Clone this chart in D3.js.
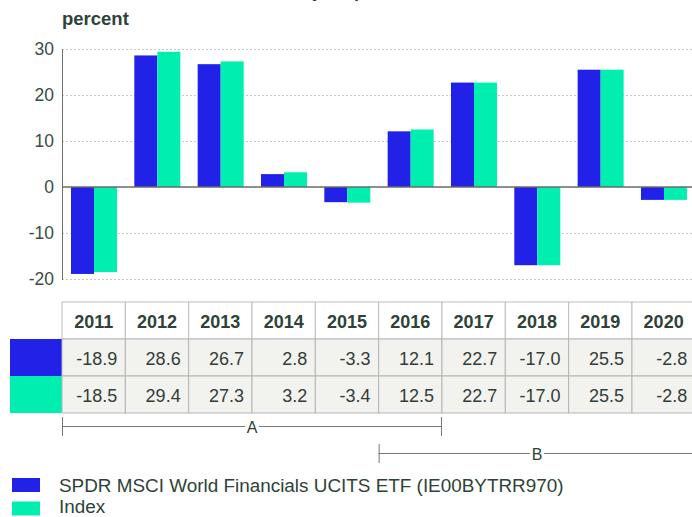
<!DOCTYPE html>
<html>
<head>
<meta charset="utf-8">
<script src="https://cdn.jsdelivr.net/npm/d3@7"></script>
<style>
  body { margin: 0; background: #fff; }
  svg { display: block; font-family: "Liberation Sans", Arial, sans-serif; }
</style>
</head>
<body>
<script>
// values
const years = ['2011','2012','2013','2014','2015','2016','2017','2018','2019','2020'];
const etfValues = [-18.9, 28.6, 26.7, 2.8, -3.3, 12.1, 22.7, -17.0, 25.5, -2.8];
const indexValues = [-18.5, 29.4, 27.3, 3.2, -3.4, 12.5, 22.7, -17.0, 25.5, -2.8];
const seriesNames = ['SPDR MSCI World Financials UCITS ETF (IE00BYTRR970)', 'Index'];
const yTicks = [30, 20, 10, 0, -10, -20];
const bracketLabels = ['A', 'B'];
const bracketFrom = ['2011', '2016'];
const bracketTo = ['2016', '2020'];

const width = 692;
const height = 517;
const colors = ['#2121e8', '#00efb1'];
const textColor = '#2e4238';

const svg = d3.select('body').append('svg')
    .attr('width', width)
    .attr('height', height);

// title sits mostly above the visible area
svg.append('text')
    .attr('x', 230)
    .attr('y', -3)
    .attr('font-size', 18)
    .attr('font-weight', 'bold')
    .attr('fill', textColor)
    .text('Calendar year performance');

svg.append('text')
    .attr('x', 62)
    .attr('y', 25)
    .attr('font-size', 18.5)
    .attr('font-weight', 'bold')
    .attr('fill', textColor)
    .text('percent');

// scales: one column per year, shared by bars and table
const xScale = d3.scaleBand()
    .domain(years)
    .range([62, 62 + 63.33 * years.length])
    .padding(0);

const xSub = d3.scaleBand()
    .domain([0, 1])
    .range([9, 55]);

const yScale = d3.scaleLinear()
    .domain([-20, 30])
    .range([279, 49]);

// plain hyphen for negatives, like the reference
const fmt = d => d.toFixed(1);

// gridlines
svg.append('g')
    .selectAll('line')
    .data(yTicks.filter(d => d !== 0))
    .join('line')
    .attr('x1', 62)
    .attr('x2', width)
    .attr('y1', d => yScale(d) + 0.5)
    .attr('y2', d => yScale(d) + 0.5)
    .attr('stroke', '#c8c8c8')
    .attr('stroke-dasharray', '2,2');

// y axis, only the labels and the line
const yAxis = d3.axisLeft(yScale)
    .tickValues(yTicks)
    .tickFormat(d => String(d))
    .tickSize(0)
    .tickPadding(8);

const yAxisG = svg.append('g')
    .attr('transform', 'translate(62,0)')
    .call(yAxis);
yAxisG.select('.domain').remove();
yAxisG.selectAll('text')
    .attr('font-size', 17.5)
    .attr('font-family', '"Liberation Sans", Arial, sans-serif')
    .attr('fill', '#3a4c43');

svg.append('line')
    .attr('x1', 62.5).attr('x2', 62.5)
    .attr('y1', yScale(30)).attr('y2', yScale(-20) + 1)
    .attr('stroke', '#707070');

// bars
const rows = [etfValues, indexValues];
rows.forEach((vals, s) => {
    svg.append('g')
        .selectAll('rect')
        .data(vals)
        .join('rect')
        .attr('x', (d, i) => xScale(years[i]) + xSub(s))
        .attr('width', xSub.bandwidth())
        .attr('y', d => yScale(Math.max(0, d)))
        .attr('height', d => Math.abs(yScale(d) - yScale(0)))
        .attr('fill', colors[s]);
});

// zero line
svg.append('line')
    .attr('x1', 62).attr('x2', width)
    .attr('y1', yScale(0)).attr('y2', yScale(0))
    .attr('stroke', '#6a6a6a')
    .attr('stroke-width', 1.5);

// data table under the chart
const tableTop = 302;
const rowH = 37;
const step = xScale.step();
const table = svg.append('g');

table.append('g')
    .selectAll('rect')
    .data(years)
    .join('rect')
    .attr('x', d => xScale(d))
    .attr('y', tableTop)
    .attr('width', step)
    .attr('height', rowH)
    .attr('fill', '#fff')
    .attr('stroke', '#bdbdbd');

table.append('g')
    .selectAll('text')
    .data(years)
    .join('text')
    .attr('x', d => xScale(d) + step / 2)
    .attr('y', tableTop + 26)
    .attr('text-anchor', 'middle')
    .attr('font-size', 18)
    .attr('font-weight', 'bold')
    .attr('fill', textColor)
    .text(d => d);

rows.forEach((vals, s) => {
    const top = tableTop + rowH * (s + 1);
    table.append('rect')
        .attr('x', 10)
        .attr('y', top)
        .attr('width', 52)
        .attr('height', rowH)
        .attr('fill', colors[s]);

    table.append('g')
        .selectAll('rect')
        .data(vals)
        .join('rect')
        .attr('x', (d, i) => xScale(years[i]))
        .attr('y', top)
        .attr('width', step)
        .attr('height', rowH)
        .attr('fill', '#f2f2ee')
        .attr('stroke', '#b5b5b5');

    table.append('g')
        .selectAll('text')
        .data(vals)
        .join('text')
        .attr('x', (d, i) => xScale(years[i]) + step - 8)
        .attr('y', top + 26)
        .attr('text-anchor', 'end')
        .attr('font-size', 18)
        .attr('fill', '#333d38')
        .text(d => fmt(d));
});

// period brackets A and B
bracketLabels.forEach((lab, k) => {
    const x0 = xScale(bracketFrom[k]);
    const x1 = xScale(bracketTo[k]) + step;
    const yy = 426.5 + k * 27;
    const mid = (x0 + x1) / 2;
    const g = svg.append('g')
        .attr('stroke', '#777')
        .attr('stroke-width', 1);
    g.append('line').attr('x1', x0 + 0.5).attr('x2', x0 + 0.5)
        .attr('y1', yy - 9.5).attr('y2', yy + 9.5);
    g.append('line').attr('x1', x1 - 0.5).attr('x2', x1 - 0.5)
        .attr('y1', yy - 9.5).attr('y2', yy + 9.5);
    g.append('line').attr('x1', x0).attr('x2', mid - 7)
        .attr('y1', yy).attr('y2', yy);
    g.append('line').attr('x1', mid + 7).attr('x2', x1)
        .attr('y1', yy).attr('y2', yy);
    svg.append('text')
        .attr('x', mid)
        .attr('y', yy + 6)
        .attr('text-anchor', 'middle')
        .attr('font-size', 16)
        .attr('fill', textColor)
        .text(lab);
});

// legend
const legend = svg.append('g')
    .selectAll('g')
    .data(seriesNames)
    .join('g')
    .attr('transform', (d, i) => `translate(12,${478 + i * 23.5})`);

legend.append('rect')
    .attr('width', 28)
    .attr('height', 14)
    .attr('fill', (d, i) => colors[i]);

legend.append('text')
    .attr('x', 47)
    .attr('y', (d, i) => 14 - i * 2.3)
    .attr('font-size', 18.9)
    .attr('fill', textColor)
    .text(d => d);
</script>
</body>
</html>
